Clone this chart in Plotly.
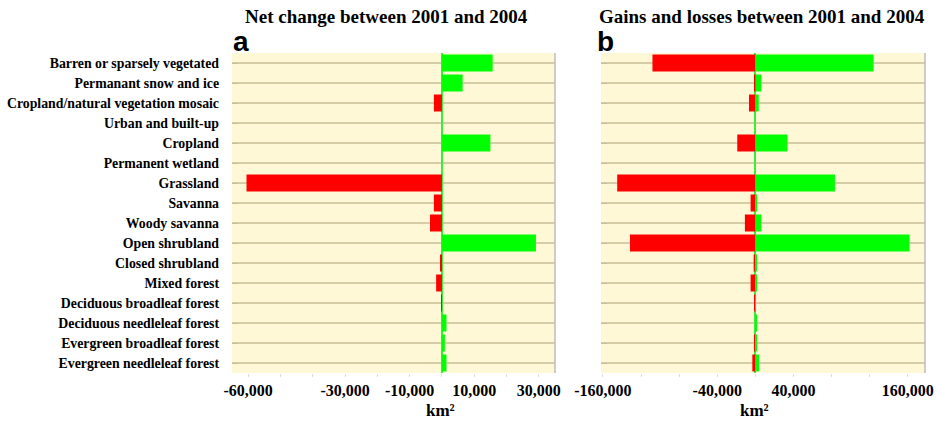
import plotly.graph_objects as go

# Land-cover classes, top to bottom
classes = [
    "Barren or sparsely vegetated",
    "Permanant snow and ice",
    "Cropland/natural vegetation mosaic",
    "Urban and built-up",
    "Cropland",
    "Permanent wetland",
    "Grassland",
    "Savanna",
    "Woody savanna",
    "Open shrubland",
    "Closed shrubland",
    "Mixed forest",
    "Deciduous broadleaf forest",
    "Deciduous needleleaf forest",
    "Evergreen broadleaf forest",
    "Evergreen needleleaf forest",
]

# Net change 2001-2004 (km2)
net_change = [15700, 6400, -2500, 0, 15000, 0, -60500, -2500,
              -3700, 29100, -300, -1800, -200, 1400, 900, 1400]

# Gains and losses 2001-2004 (km2)
losses = [-108000, -500, -6700, 0, -19000, 0, -145000, -5000,
          -11000, -131600, -1800, -5000, -1000, -300, -1500, -3200]
gains = [124000, 6300, 3500, 0, 33700, 0, 83500, 1000,
         6300, 161700, 1000, 1000, 500, 1700, 1000, 3800]

# Axis ticks
left_ticks = [-60000, -50000, -40000, -30000, -20000, -10000, 0, 10000, 20000, 30000]
left_labels = ["-60,000", "", "", "-30,000", "", "-10,000", "", "10,000", "", "30,000"]
right_ticks = [-160000, -120000, -80000, -40000, 0, 40000, 80000, 120000, 160000]
right_labels = ["-160,000", "", "", "-40,000", "", "40,000", "", "", "160,000"]

RED = "#FF0000"
GREEN = "#00FF00"
BG = "#FEF8D6"
GRID = "#D6CCA6"
SERIF = "Liberation Serif, Times New Roman, serif"
SANS = "Liberation Sans, Arial, sans-serif"

fig = go.Figure()

fig.add_trace(go.Bar(
    y=classes, x=net_change, orientation="h",
    marker=dict(color=[RED if v < 0 else GREEN for v in net_change], line=dict(width=0)),
    xaxis="x", yaxis="y", width=0.85, showlegend=False,
))
fig.add_trace(go.Bar(
    y=classes, x=losses, orientation="h",
    marker=dict(color=RED, line=dict(width=0)),
    xaxis="x2", yaxis="y2", width=0.85, showlegend=False,
))
fig.add_trace(go.Bar(
    y=classes, x=gains, orientation="h",
    marker=dict(color=GREEN, line=dict(width=0)),
    xaxis="x2", yaxis="y2", width=0.85, showlegend=False,
))

ydom = [1 - 373 / 423, 1 - 53 / 423]
xdom1 = [232 / 938, 555 / 938]
xdom2 = [601 / 938, 925 / 938]

tickfont = dict(family=SERIF, size=16, color="black", weight="bold")
common_x = dict(
    showgrid=False, zeroline=True, zerolinecolor="#3AEE3A", zerolinewidth=1.5,
    ticks="outside", ticklen=3, tickcolor="#DDDDDD", showline=False,
    tickfont=tickfont, fixedrange=True, automargin=False,
)
common_y = dict(
    categoryorder="array", categoryarray=classes, autorange="reversed",
    showgrid=True, gridcolor=GRID, gridwidth=1.5,
    showline=False, zeroline=False, fixedrange=True, automargin=False,
)

fig.update_layout(
    template="none",
    width=938, height=423,
    margin=dict(l=0, r=0, t=0, b=0, pad=0),
    paper_bgcolor="white", plot_bgcolor=BG,
    barmode="overlay",
    xaxis=dict(domain=xdom1, anchor="y", range=[-65000, 35000],
               tickvals=left_ticks, ticktext=left_labels, **common_x),
    yaxis=dict(domain=ydom, anchor="x", ticks="inside", ticklen=6, tickcolor="#C8BE98",
               ticklabelstandoff=12,
               tickfont=dict(family=SERIF, size=13.8, color="black", weight="bold"),
               **common_y),
    xaxis2=dict(domain=xdom2, anchor="y2", range=[-162000, 178000],
                tickvals=right_ticks, ticktext=right_labels, **common_x),
    yaxis2=dict(domain=ydom, anchor="x2", showticklabels=False, ticks="inside",
                ticklen=6, tickcolor="#C8BE98", **common_y),
    shapes=[
        dict(type="line", xref="x domain", yref="y domain", x0=1, x1=1, y0=0, y1=1,
             line=dict(color="#BDBDBD", width=1.5)),
        dict(type="line", xref="x2 domain", yref="y2 domain", x0=1, x1=1, y0=0, y1=1,
             line=dict(color="#BDBDBD", width=1.5)),
    ],
    annotations=[
        dict(text="Net change between 2001 and 2004", xref="paper", yref="paper",
             x=386 / 938, y=1 - 16 / 423, xanchor="center", yanchor="middle", showarrow=False,
             font=dict(family=SERIF, size=19, color="black", weight="bold")),
        dict(text="Gains and losses between 2001 and 2004", xref="paper", yref="paper",
             x=762 / 938, y=1 - 16 / 423, xanchor="center", yanchor="middle", showarrow=False,
             font=dict(family=SERIF, size=19, color="black", weight="bold")),
        dict(text="a", xref="paper", yref="paper", x=231 / 938, y=1 - 41 / 423,
             xanchor="left", yanchor="middle", showarrow=False,
             font=dict(family=SANS, size=28, color="black", weight="bold")),
        dict(text="b", xref="paper", yref="paper", x=595 / 938, y=1 - 41 / 423,
             xanchor="left", yanchor="middle", showarrow=False,
             font=dict(family=SANS, size=28, color="black", weight="bold")),
        dict(text="km²", xref="paper", yref="paper", x=440 / 938, y=1 - 410 / 423,
             xanchor="center", yanchor="middle", showarrow=False,
             font=dict(family=SERIF, size=17, color="black", weight="bold")),
        dict(text="km²", xref="paper", yref="paper", x=754 / 938, y=1 - 410 / 423,
             xanchor="center", yanchor="middle", showarrow=False,
             font=dict(family=SERIF, size=17, color="black", weight="bold")),
    ],
)

fig.write_html("out.html")
